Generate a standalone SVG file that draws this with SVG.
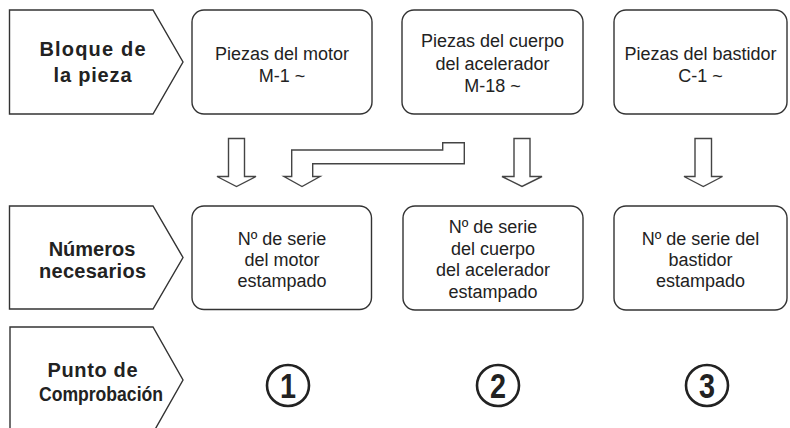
<svg xmlns="http://www.w3.org/2000/svg" width="790" height="428" viewBox="0 0 790 428">
<style>
.lab{fill:#fff;stroke:#333;stroke-width:1.4}
.box{fill:#fff;stroke:#333;stroke-width:1.4}
.arr{fill:#fff;stroke:#444;stroke-width:1.4;stroke-linejoin:miter}
.lt{font-family:"Liberation Sans",Arial,sans-serif;font-weight:bold;font-size:20px;fill:#222;text-anchor:middle}
.bt{font-family:"Liberation Sans",Arial,sans-serif;font-size:18px;fill:#222;text-anchor:middle}
.circ{fill:none;stroke:#222;stroke-width:2.6}
.num{font-family:"Liberation Sans",Arial,sans-serif;font-weight:bold;font-size:36px;fill:#222;text-anchor:middle}
</style>
<rect width="790" height="428" fill="#fff"/>
<g id="label-bloque">
<polygon class="lab" points="9.5,10 153,10 183,62 153,114 9.5,114"/>
<text class="lt" x="92.5" y="56" textLength="106" lengthAdjust="spacing">Bloque de</text>
<text class="lt" x="92.5" y="82" textLength="78" lengthAdjust="spacing">la pieza</text>
</g>
<g id="label-numeros">
<polygon class="lab" points="9.5,206 153,206 183,257.5 153,309 9.5,309"/>
<text class="lt" x="92" y="256">Números</text>
<text class="lt" x="92.5" y="277.5" textLength="107" lengthAdjust="spacing">necesarios</text>
</g>
<g id="label-punto">
<polygon class="lab" points="10,327 153,327 183,380 153,433 10,433"/>
<text class="lt" x="92.5" y="377" textLength="90" lengthAdjust="spacing">Punto de</text>
<text class="lt" x="101" y="400.5" textLength="124" lengthAdjust="spacingAndGlyphs">Comprobación</text>
</g>
<g id="box-motor">
<rect class="box" x="192" y="10" width="180" height="104" rx="12"/>
<text class="bt" x="282" y="59.5">Piezas del motor</text>
<text class="bt" x="282" y="81.5">M-1 ~</text>
</g>
<g id="box-cuerpo">
<rect class="box" x="402" y="10" width="181" height="104" rx="12"/>
<text class="bt" x="492.5" y="47">Piezas del cuerpo</text>
<text class="bt" x="492.5" y="69.5">del acelerador</text>
<text class="bt" x="492.5" y="92">M-18 ~</text>
</g>
<g id="box-bastidor">
<rect class="box" x="614" y="10" width="173" height="104" rx="12"/>
<text class="bt" x="700.5" y="59.5">Piezas del bastidor</text>
<text class="bt" x="700.5" y="81.5">C-1 ~</text>
</g>
<g id="box-serie-motor">
<rect class="box" x="192" y="206" width="179.5" height="103.5" rx="12"/>
<text class="bt" x="282" y="245">Nº de serie</text>
<text class="bt" x="282" y="266">del motor</text>
<text class="bt" x="282" y="287">estampado</text>
</g>
<g id="box-serie-cuerpo">
<rect class="box" x="403" y="206" width="180" height="104" rx="12"/>
<text class="bt" x="493" y="233">Nº de serie</text>
<text class="bt" x="493" y="254.5">del cuerpo</text>
<text class="bt" x="493" y="276">del acelerador</text>
<text class="bt" x="493" y="297.5">estampado</text>
</g>
<g id="box-serie-bastidor">
<rect class="box" x="614" y="206" width="173" height="104" rx="12"/>
<text class="bt" x="700.5" y="245">Nº de serie del</text>
<text class="bt" x="700.5" y="266">bastidor</text>
<text class="bt" x="700.5" y="287">estampado</text>
</g>
<g id="check-1">
<ellipse class="circ" cx="288" cy="385.5" rx="21" ry="20.5"/>
<text class="num" x="288" y="398" transform="translate(288 0) scale(0.8 1) translate(-288 0)">1</text>
</g>
<g id="check-2">
<ellipse class="circ" cx="498" cy="385.5" rx="21" ry="20.5"/>
<text class="num" x="498" y="398" transform="translate(498 0) scale(0.8 1) translate(-498 0)">2</text>
</g>
<g id="check-3">
<ellipse class="circ" cx="707" cy="385.5" rx="21" ry="20.5"/>
<text class="num" x="707" y="398" transform="translate(707 0) scale(0.8 1) translate(-707 0)">3</text>
</g>
<g id="connectors">
<polygon class="arr" points="228.5,138.5 244.5,138.5 244.5,176.5 256,176.5 236.5,186.5 217,176.5 228.5,176.5"/>
<polygon class="arr" points="464.3,142.7 442.7,142.7 442.7,150 291.7,150 291.7,176.5 284,176.5 302,186.5 320,176.5 312.7,176.5 312.7,163.7 464.3,163.7"/>
<polygon class="arr" points="514,138.5 530,138.5 530,176.5 542,176.5 522,186.5 502,176.5 514,176.5"/>
<polygon class="arr" points="695,138.5 711.5,138.5 711.5,176.5 722.5,176.5 703.3,186.5 684,176.5 695,176.5"/>
</g>
</svg>
